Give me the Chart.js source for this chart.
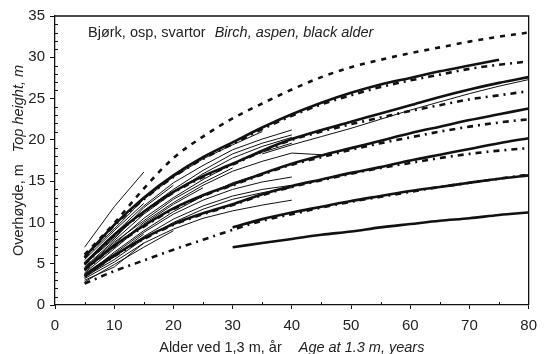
<!DOCTYPE html>
<html>
<head>
<meta charset="utf-8">
<script src="https://cdn.jsdelivr.net/npm/chart.js@4/dist/chart.umd.min.js"></script>
<style>
html,body{margin:0;padding:0;background:#fff;}
#c{display:block;}
</style>
</head>
<body>
<canvas id="c" width="545" height="354"></canvas>
<script>
// Ages (x) at 1.3 m
const ages = [5,10,15,20,25,30,35,40,45,50,55,60,65,70,75,80];
const xTicks = [0,10,20,30,40,50,60,70,80];
const yTicks = [0,5,10,15,20,25,30,35];

// Thick solid site curves
const solidA = [5.8,9.7,13.0,15.7,17.9,19.7,21.5,23.1,24.5,25.7,26.7,27.5,28.3,29.0,29.7,null];
const solidB = [5.0,8.5,11.3,13.7,15.6,17.1,18.7,20.1,21.2,22.2,23.2,24.2,25.2,26.1,26.9,27.6];
const solidC = [4.3,7.2,9.6,11.7,13.3,14.6,15.9,17.1,18.1,19.0,19.9,20.8,21.6,22.4,23.1,23.8];
const solidD = [3.6,6.0,8.1,9.8,11.1,12.2,13.4,14.4,15.2,16.0,16.7,17.5,18.2,18.9,19.6,20.2];
const solidE = [null,null,null,null,null,9.4,10.4,11.2,11.9,12.6,13.2,13.8,14.3,14.8,15.3,15.7];
const solidF = [null,null,null,null,null,7.0,7.5,8.0,8.5,8.9,9.4,9.8,10.2,10.5,10.9,11.2];

// Thick dashed curves
const dashT1 = [6.1,9.9,14.1,17.8,20.4,22.6,24.4,26.1,27.6,28.8,29.7,30.5,31.2,31.9,32.5,33.0];
const dashT2 = [5.7,9.6,12.8,15.5,17.7,19.5,21.3,22.9,24.3,25.4,26.4,27.2,27.9,28.6,29.1,29.5];
const dashT3 = [4.9,8.4,11.2,13.6,15.5,17.0,18.6,20.0,21.0,21.9,22.7,23.5,24.2,24.9,25.4,25.9];
const dashT4 = [4.2,7.1,9.5,11.6,13.2,14.5,15.8,17.0,17.9,18.8,19.6,20.3,21.0,21.6,22.1,22.5];
const dashT5 = [3.5,5.9,8.0,9.7,11.0,12.1,13.3,14.3,15.1,15.9,16.6,17.2,17.8,18.3,18.7,19.0];
const dashT6 = [2.6,4.1,5.4,6.7,7.9,9.1,10.2,11.0,11.8,12.5,13.1,13.7,14.3,14.8,15.3,15.8];

// Thin observed stand series (values at ages 5,10,15,...)
const obs1  = [7.0,11.9,16.1];
const obs2  = [5.8,9.2,12.8,15.5,17.7,19.4,21.0];
const obs3  = [5.2,8.6,12.0,14.8,16.9,18.8,20.1,21.2];
const obs4  = [4.9,8.2,11.4,14.0,16.3,18.3,19.6,20.6];
const obs5  = [4.6,7.8,11.0,13.6,15.9,17.8,19.2,20.3];
const obs6  = [4.4,7.4,10.5,13.0,15.2,17.1,18.5,19.6];
const obs7  = [4.2,7.0,10.0,12.4,14.5,16.2,17.4,18.4,18.2];
const obs8  = [3.8,6.2,8.8,11.0,12.7,14.0,14.9,15.5];
const obs9  = [3.6,5.8,8.3,10.4,12.0,13.2,14.0,14.5];
const obs10 = [3.4,5.5,8.0,10.0,11.6,12.8,13.6,14.2];
const obs11 = [3.2,5.2,7.5,9.2,10.5,11.4,12.1,12.7];
const obs12 = [3.0,4.6,7.5];
const obs13 = [2.8,4.9,7.0,9.0];
const obs14 = [5.5,9.0,12.3];
const obs15 = [5.0,8.0,11.8,14.5];
const obs16 = [4.5,7.6,10.2,12.8,14.8,16.6];
const obs17 = [3.9,6.8,9.8,12.2,14.2];
const obs18 = [3.5,6.4,9.0,11.3,13.2,14.8,15.9];
const obs19 = [3.3,5.9,8.6];
const obs20 = [null,null,null,null,null,null,18.3,19.4,20.4,21.4,22.5,23.6,24.6,25.6,26.5,27.3];

const FONT = "'Liberation Sans', Arial, sans-serif";
const INK = '#111';

function pts(arr){
  const out = [];
  arr.forEach((v,i)=>{ if(v!==null && v!==undefined) out.push({x:ages[i], y:v}); });
  return out;
}

const datasets = [];
[solidA,solidB,solidC,solidD,solidE,solidF].forEach(a=>datasets.push({
  data: pts(a), borderColor: INK, borderWidth: 2.6, pointRadius: 0,
  cubicInterpolationMode: 'monotone', fill:false
}));
[dashT1].forEach(a=>datasets.push({
  data: pts(a), borderColor: INK, borderWidth: 2.6, pointRadius: 0, borderDash:[5,6],
  cubicInterpolationMode: 'monotone', fill:false
}));
[dashT2,dashT3,dashT4,dashT5,dashT6].forEach(a=>datasets.push({
  data: pts(a), borderColor: INK, borderWidth: 2.6, pointRadius: 0, borderDash:[6,5,2,5],
  cubicInterpolationMode: 'monotone', fill:false
}));
[obs1,obs2,obs3,obs4,obs5,obs6,obs7,obs8,obs9,obs10,obs11,obs12,obs13,obs14,obs15,obs16,obs17,obs18,obs19,obs20]
  .forEach(a=>datasets.push({
    data: pts(a), borderColor: INK, borderWidth: 1, pointRadius: 0, tension: 0, fill:false
  }));

const decor = {
  id: 'decor',
  afterDraw(chart){
    const ctx = chart.ctx, a = chart.chartArea;
    const xs = chart.scales.x, ys = chart.scales.y;
    ctx.save();
    ctx.strokeStyle = INK;
    ctx.lineWidth = 1.3;
    // top and right frame
    ctx.beginPath();
    ctx.moveTo(a.left, a.top); ctx.lineTo(a.right, a.top); ctx.lineTo(a.right, a.bottom);
    ctx.stroke();
    // minor ticks inside
    ctx.lineWidth = 1;
    ctx.beginPath();
    for(let v=1; v<35; v++){
      if(v%5===0) continue;
      const y = Math.round(ys.getPixelForValue(v))+0.5;
      ctx.moveTo(a.left, y); ctx.lineTo(a.left+3, y);
    }
    for(let v=5; v<80; v+=10){
      const x = Math.round(xs.getPixelForValue(v))+0.5;
      ctx.moveTo(x, a.bottom); ctx.lineTo(x, a.bottom-3);
    }
    ctx.stroke();

    ctx.fillStyle = '#222';
    ctx.textBaseline = 'alphabetic';
    const normal = "14.5px " + FONT, italic = "italic 14.5px " + FONT;
    function mixed(x0, y0, t1, t2, gap, centered){
      ctx.font = normal; const w1 = ctx.measureText(t1).width;
      ctx.font = italic; const w2 = ctx.measureText(t2).width;
      let sx = centered ? x0 - (w1+gap+w2)/2 : x0;
      ctx.font = normal; ctx.textAlign='left'; ctx.fillText(t1, sx, y0);
      ctx.font = italic; ctx.fillText(t2, sx + w1 + gap, y0);
    }
    // annotation
    mixed(88, 37, 'Bjørk, osp, svartor', 'Birch, aspen, black alder', 9, false);
    // x title
    mixed((a.left+a.right)/2, 352, 'Alder ved 1,3 m, år', 'Age at 1.3 m, years', 17, true);
    // y title
    ctx.save();
    ctx.translate(23, (a.top+a.bottom)/2);
    ctx.rotate(-Math.PI/2);
    mixed(0, 0, 'Overhøyde, m', 'Top height, m', 12, true);
    ctx.restore();
    ctx.restore();
  }
};

new Chart(document.getElementById('c'), {
  type: 'line',
  data: { datasets },
  options: {
    responsive: false,
    animation: false,
    devicePixelRatio: 1,
    layout: { padding: { top: 16, right: 7, left: 0, bottom: 0 } },
    plugins: { legend: { display: false }, tooltip: { enabled: false } },
    scales: {
      x: {
        type: 'linear', min: 0, max: 80,
        afterBuildTicks: s => { s.ticks = xTicks.map(v=>({value:v})); },
        ticks: { font: { family: FONT, size: 15 }, color: '#222', padding: 8, maxRotation: 0 },
        grid: { drawOnChartArea: false, drawTicks: true, tickLength: 4, color: INK, lineWidth: 1 },
        border: { display: true, color: INK, width: 1.3 },
        afterFit: s => { s.height = 49; }
      },
      y: {
        type: 'linear', min: 0, max: 35,
        afterBuildTicks: s => { s.ticks = yTicks.map(v=>({value:v})); },
        ticks: { font: { family: FONT, size: 15 }, color: '#222', padding: 5 },
        grid: { drawOnChartArea: false, drawTicks: true, tickLength: 5, color: INK, lineWidth: 1 },
        border: { display: true, color: INK, width: 1.3 },
        afterFit: s => { s.width = 55; }
      }
    }
  },
  plugins: [decor]
});
</script>
</body>
</html>
